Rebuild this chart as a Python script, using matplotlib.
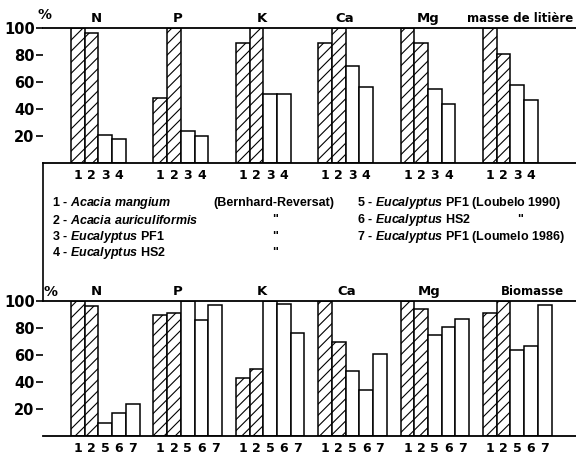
import matplotlib
matplotlib.use("Agg")
import matplotlib.pyplot as plt
import matplotlib.transforms as mtransforms
from matplotlib.lines import Line2D

# group titles
titres_haut = ["N", "P", "K", "Ca", "Mg", "masse de litière"]
titres_bas = ["N", "P", "K", "Ca", "Mg", "Biomasse"]

# species numbers under the bars
especes_haut = ["1", "2", "3", "4"]
especes_bas = ["1", "2", "5", "6", "7"]

# top panel, % per element (N, P, K, Ca, Mg, litter mass)
haut_1 = [100, 48, 89, 89, 100, 100]
haut_2 = [96, 100, 100, 100, 89, 81]
haut_3 = [21, 24, 51, 72, 55, 58]
haut_4 = [18, 20, 51, 56, 44, 47]

# bottom panel, % per element (N, P, K, Ca, Mg, biomass)
bas_1 = [100, 90, 43, 100, 100, 91]
bas_2 = [96, 91, 50, 70, 94, 100]
bas_5 = [10, 100, 100, 48, 75, 64]
bas_6 = [17, 86, 98, 34, 81, 67]
bas_7 = [24, 97, 76, 61, 87, 97]

hachure_haut = [True, True, False, False]
hachure_bas = [True, True, False, False, False]

legende_gauche = [
    r"1 - $\mathit{Acacia\ mangium}$",
    r"2 - $\mathit{Acacia\ auriculiformis}$",
    r"3 - $\mathit{Eucalyptus}$ PF1",
    r"4 - $\mathit{Eucalyptus}$ HS2",
]
legende_source = ["(Bernhard-Reversat)", '"', '"', '"']
legende_droite = [
    r"5 - $\mathit{Eucalyptus}$ PF1 (Loubelo 1990)",
    r"6 - $\mathit{Eucalyptus}$ HS2",
    r"7 - $\mathit{Eucalyptus}$ PF1 (Loumelo 1986)",
]

plt.rcParams['mathtext.fontset'] = 'custom'
plt.rcParams['mathtext.rm'] = 'Liberation Sans:bold'
plt.rcParams['mathtext.it'] = 'Liberation Sans:italic:bold'
plt.rcParams['hatch.linewidth'] = 0.8

W, H = 576, 455
fig = plt.figure(figsize=(W / 100, H / 100), dpi=100)


def axes_px(x0, ytop, x1, ybot):
    return fig.add_axes([x0 / W, 1 - ybot / H, (x1 - x0) / W, (ybot - ytop) / H])


largeur = 13.7
pas_groupe = 82.4
debut = 28


def panneau(ax, series, hachures, especes, titres, titre_x):
    centres = []
    labels = []
    for j, (vals, hach) in enumerate(zip(series, hachures)):
        x = [debut + pas_groupe * i + j * largeur for i in range(len(vals))]
        ax.bar(x, vals, width=largeur, align='edge', facecolor='white',
               edgecolor='black', linewidth=1.1, hatch='///' if hach else None)
        centres += [xi + largeur / 2 for xi in x]
        labels += [especes[j]] * len(vals)
    ax.set_xlim(0, 533)
    ax.set_ylim(0, 100)
    for s in ['left', 'right']:
        ax.spines[s].set_visible(False)
    for s in ['top', 'bottom']:
        ax.spines[s].set_linewidth(1.3)
    ax.set_xticks(centres)
    ax.set_xticklabels(labels, fontsize=9, fontweight='bold', family='DejaVu Sans')
    ax.tick_params(axis='x', length=0, pad=4)
    ax.set_yticks([20, 40, 60, 80, 100])
    ax.set_yticklabels(["20", "40", "60", "80", "100"], fontsize=10.5,
                       fontweight='bold', family='DejaVu Sans')
    ax.tick_params(axis='y', length=5, width=1.2, pad=1)
    tr = mtransforms.blended_transform_factory(ax.transData, ax.transAxes)
    for t, xt in zip(titres, titre_x):
        ax.text(xt, 1 + 6 / 135, t, transform=tr, ha='center', va='baseline',
                fontsize=9.5 if len(t) < 3 else 8.5, fontweight='bold',
                family='DejaVu Sans')


ax_haut = axes_px(43, 28, 576, 163)
ax_bas = axes_px(43, 301, 576, 436)

titre_x_haut = [53, 135, 219, 302, 385, 477]
titre_x_bas = [53, 135, 219, 304, 386, 489]

panneau(ax_haut, [haut_1, haut_2, haut_3, haut_4], hachure_haut, especes_haut,
        titres_haut, titre_x_haut)
panneau(ax_bas, [bas_1, bas_2, bas_5, bas_6, bas_7], hachure_bas, especes_bas,
        titres_bas, titre_x_bas)

fig.text(44 / W, 1 - 15 / H, "%", ha='center', va='center', fontsize=10, fontweight='bold')
fig.text(51 / W, 1 - 292 / H, "%", ha='center', va='center', fontsize=10, fontweight='bold')

# vertical line joining the two panels
fig.add_artist(Line2D([43 / W, 43 / W], [1 - 163 / H, 1 - 301 / H], color='black', lw=1.2))

y_lignes = [203, 220, 237, 253]
taille = 9
for i, t in enumerate(legende_gauche):
    fig.text(52 / W, 1 - y_lignes[i] / H, t, ha='left', va='center', fontsize=taille,
             family='Liberation Sans', fontweight='bold')
fig.text(213 / W, 1 - y_lignes[0] / H, legende_source[0], ha='left', va='center',
         fontsize=taille, family='Liberation Sans', fontweight='bold')
for i in range(1, 4):
    fig.text(275 / W, 1 - y_lignes[i] / H, legende_source[i], ha='center', va='center',
             fontsize=taille, family='Liberation Sans', fontweight='bold')
for i, t in enumerate(legende_droite):
    fig.text(357 / W, 1 - y_lignes[i] / H, t, ha='left', va='center', fontsize=taille,
             family='Liberation Sans', fontweight='bold')
fig.text(520 / W, 1 - y_lignes[1] / H, '"', ha='center', va='center', fontsize=taille,
         family='Liberation Sans', fontweight='bold')

fig.savefig("out.png", dpi=100)
